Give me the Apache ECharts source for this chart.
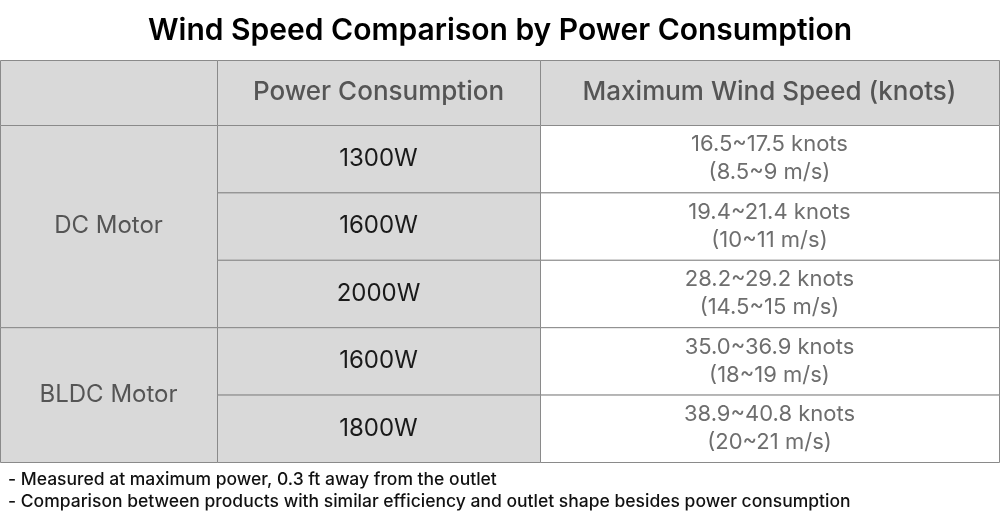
<!DOCTYPE html>
<html>
<head>
<meta charset="utf-8">
<script src="https://cdn.jsdelivr.net/npm/echarts@6/dist/echarts.min.js"></script>
<style>html,body{margin:0;padding:0;background:#fff}#main{width:1000px;height:526px}</style>
</head>
<body>
<div id="main"></div>
<script>
var headers = ['', 'Power Consumption', 'Maximum Wind Speed (knots)'];
var groups = ['DC Motor', 'DC Motor', 'DC Motor', 'BLDC Motor', 'BLDC Motor'];
var powers = ['1300W', '1600W', '2000W', '1600W', '1800W'];
var speeds = ['16.5~17.5 knots\n(8.5~9 m/s)', '19.4~21.4 knots\n(10~11 m/s)', '28.2~29.2 knots\n(14.5~15 m/s)',
              '35.0~36.9 knots\n(18~19 m/s)', '38.9~40.8 knots\n(20~21 m/s)'];
var notes = ['- Measured at maximum power, 0.3 ft away from the outlet',
             '- Comparison between products with similar efficiency and outlet shape besides power consumption'];

// layout
var colX = [0, 217, 540, 999];
var headTop = 60, headBottom = 125, rowH = 67.4;

var cells = [];
// header
for (var c = 0; c < 3; c++) cells.push([colX[c], colX[c + 1], headTop, headBottom, headers[c], 'head']);
// group column (merged)
var start = 0;
for (var i = 1; i <= groups.length; i++) {
    if (i === groups.length || groups[i] !== groups[start]) {
        cells.push([colX[0], colX[1], headBottom + start * rowH, headBottom + i * rowH, groups[start], 'group']);
        start = i;
    }
}
for (var r = 0; r < powers.length; r++) {
    cells.push([colX[1], colX[2], headBottom + r * rowH, headBottom + (r + 1) * rowH, powers[r], 'power']);
    cells.push([colX[2], colX[3], headBottom + r * rowH, headBottom + (r + 1) * rowH, speeds[r], 'speed']);
}

var styles = {
    head: {fill: '#d9d9d9', color: '#555', size: 26, weight: 500},
    group: {fill: '#d9d9d9', color: '#555', size: 24, weight: 400},
    power: {fill: '#d9d9d9', color: '#1a1a1a', size: 24, weight: 400},
    speed: {fill: '#ffffff', color: '#6e6e6e', size: 22, weight: 400}
};

var chart = echarts.init(document.getElementById('main'));
chart.setOption({
    animation: false,
    title: {
        text: 'Wind Speed Comparison by Power Consumption',
        left: 'center', top: 11,
        textStyle: {fontFamily: 'Inter', fontSize: 30, fontWeight: 600, color: '#000'}
    },
    grid: {left: 0, right: 0, top: 0, bottom: 0},
    xAxis: {type: 'value', min: 0, max: 1000, show: false},
    yAxis: {type: 'value', min: 0, max: 526, inverse: true, show: false},
    graphic: notes.map(function (t, k) {
        return {type: 'text', left: 8, top: 471 + k * 22,
            style: {text: t, font: '500 17.5px Inter', fill: '#111'}};
    }),
    series: [{
        type: 'custom',
        data: cells,
        encode: {x: [0, 1], y: [2, 3]},
        renderItem: function (params, api) {
            var p0 = api.coord([api.value(0), api.value(2)]);
            var p1 = api.coord([api.value(1), api.value(3)]);
            var d = cells[params.dataIndex];
            var s = styles[d[5]];
            return {
                type: 'group',
                children: [{
                    type: 'rect',
                    shape: {x: p0[0] + 0.5, y: p0[1] + 0.5, width: p1[0] - p0[0], height: p1[1] - p0[1]},
                    style: {fill: s.fill, stroke: '#8a8a8a', lineWidth: 1}
                }, {
                    type: 'text',
                    x: (p0[0] + p1[0]) / 2, y: (p0[1] + p1[1]) / 2,
                    style: {text: d[4], align: 'center', verticalAlign: 'middle', lineHeight: 28,
                        font: s.weight + ' ' + s.size + 'px Inter', fill: s.color}
                }]
            };
        }
    }]
});
</script>
</body>
</html>
